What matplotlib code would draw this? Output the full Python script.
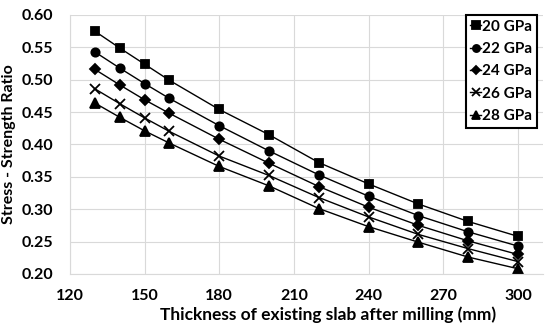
import numpy as np
import matplotlib.pyplot as plt

# thickness values (mm)
thickness = [130, 140, 150, 160, 180, 200, 220, 240, 260, 280, 300]

# stress-strength ratio per modulus
ratio_20 = [0.575, 0.549, 0.524, 0.499, 0.454, 0.415, 0.372, 0.339, 0.308, 0.281, 0.258]
ratio_22 = [0.543, 0.518, 0.494, 0.471, 0.429, 0.390, 0.353, 0.320, 0.290, 0.265, 0.243]
ratio_24 = [0.516, 0.492, 0.469, 0.448, 0.408, 0.371, 0.335, 0.303, 0.275, 0.251, 0.230]
ratio_26 = [0.486, 0.463, 0.441, 0.420, 0.382, 0.352, 0.318, 0.288, 0.261, 0.239, 0.219]
ratio_28 = [0.464, 0.442, 0.421, 0.402, 0.366, 0.336, 0.301, 0.273, 0.249, 0.226, 0.208]

labels = ["20 GPa", "22 GPa", "24 GPa", "26 GPa", "28 GPa"]
series = [ratio_20, ratio_22, ratio_24, ratio_26, ratio_28]
markers = ["s", "o", "D", "x", "^"]
sizes = [6, 6, 5, 7, 7]

plt.rcParams['font.family'] = ['Lato', 'DejaVu Sans']
plt.rcParams['font.weight'] = 'bold'

fig = plt.figure(figsize=(5.5, 3.32), dpi=100)
ax = fig.add_axes([0.127, 0.175, 0.86, 0.78])

for y, lab, m, s in zip(series, labels, markers, sizes):
    ax.plot(thickness, y, color='black', lw=1.0, marker=m, ms=s,
            mew=1.3, label=lab)

ax.set_xlim(120, 310)
ax.set_ylim(0.20, 0.60)
ax.set_xticks(np.arange(120, 301, 30))
ax.set_yticks(np.arange(0.20, 0.601, 0.05))
ax.set_yticklabels([f"{v:.2f}" for v in np.arange(0.20, 0.601, 0.05)])
ax.tick_params(axis='y', length=0, labelsize=11.5, pad=12)
ax.tick_params(axis='x', length=0, labelsize=11.5, pad=11)
for lab in ax.get_xticklabels() + ax.get_yticklabels():
    lab.set_fontweight('bold')

ax.grid(True, color='#d9d9d9', lw=0.8)
ax.set_axisbelow(True)
for side in ['top', 'right']:
    ax.spines[side].set_visible(False)
for side in ['left', 'bottom']:
    ax.spines[side].set_color('#d9d9d9')

ax.set_xlabel("Thickness of existing slab after milling (mm)", fontsize=12.5,
              fontweight='bold')
ax.xaxis.set_label_coords(0.545, -0.125)
ax.set_ylabel("Stress - Strength Ratio", fontsize=11.5, fontweight='bold',
              labelpad=4)

leg = ax.legend(loc='upper right', bbox_to_anchor=(0.988, 1.0), fancybox=False,
                edgecolor='black', framealpha=1, fontsize=11,
                handlelength=0.7, handletextpad=0.1, borderpad=0.3,
                labelspacing=0.55, borderaxespad=0.0, markerscale=0.85)
leg.get_frame().set_linewidth(1.5)
for t in leg.get_texts():
    t.set_fontweight('bold')

fig.savefig("out.png", dpi=100)
